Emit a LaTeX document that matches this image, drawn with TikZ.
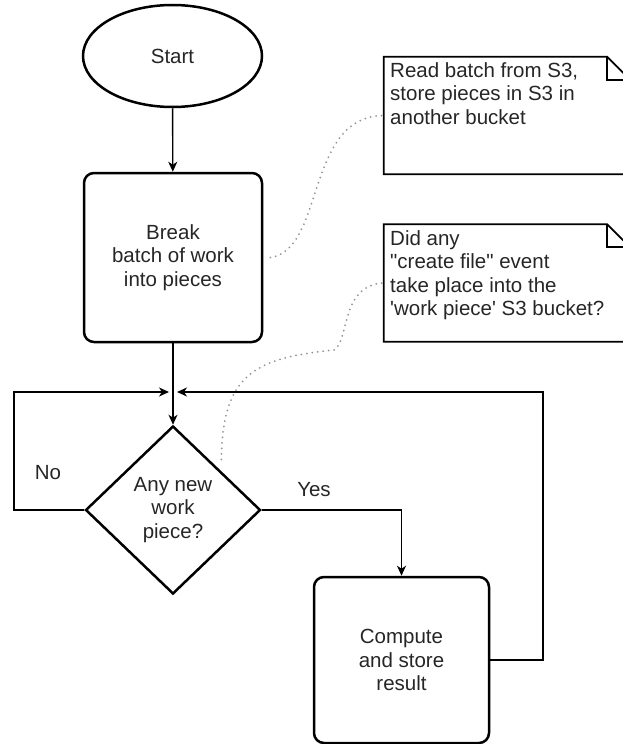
\documentclass[tikz,border=0pt]{standalone}
\usepackage{fontspec}
\setmainfont{Liberation Sans}[Ligatures=TeXOff]
\usetikzlibrary{shapes.geometric,arrows.meta}
\begin{document}
\begin{tikzpicture}[x=1pt,y=-1pt,
  txt/.style={font=\fontsize{20.5}{23.5}\selectfont, text=black!85},
  ell/.style={ellipse, draw, line width=2.5pt, minimum width=179pt, minimum height=102pt, inner sep=0pt, txt},
  proc/.style={rectangle, rounded corners=10pt, draw, line width=2.5pt, inner sep=0pt, align=center, txt},
  dec/.style={diamond, draw, line width=2.5pt, inner sep=0pt, align=center, txt, minimum width=175pt, minimum height=168pt},
  link/.style={line width=1.4pt, -{Stealth[length=10pt,width=9pt,inset=3pt]}},
  notebox/.style={rectangle, inner sep=0pt, minimum width=246pt, minimum height=117pt},
  noteline/.style={line width=1.8pt, line join=miter},
  notetxt/.style={txt, align=left, inner sep=0pt, anchor=north west},
  dots/.style={draw=gray!85, line width=2pt, dash pattern=on 0pt off 5.5pt, line cap=round},
  lbl/.style={txt, inner sep=0pt}]
\useasboundingbox (0,0) rectangle (623,744);

% main flow
\node[ell] (start) at (172.5,56) {Start};
\node[proc, minimum width=178pt, minimum height=169pt] (break) at (173,257.5) {Break\\batch of work\\into pieces};
\coordinate (j) at (173,392);
\node[dec] (dia) at (173,510) {Any new\\work\\piece?};
\node[proc, minimum width=175pt, minimum height=166pt] (comp) at (401.5,660) {Compute\\and store\\result};
\coordinate (nl) at (14,392);
\coordinate (rr) at (543,392);

\draw[link] (start) -- (break);
\draw[link] (break.south) -- (dia.north);
\draw[link] (dia.west) -| (nl) -- ([xshift=-4pt]j);
\draw[link] (dia.east) -| (comp.north);
\draw[link] (comp.east) -| (rr) -- ([xshift=4pt]j);

\node[lbl] (no) at (48,473) {No};
\node[lbl] (yes) at (314,490) {Yes};

% notes
\node[notebox] (note1) at (507,115.5) {};
\draw[noteline] (note1.south west) -- (note1.north west) -- ([xshift=-23pt]note1.north east)
  -- ([yshift=-23pt]note1.north east) -- (note1.south east) -- cycle;
\draw[noteline] ([xshift=-23pt]note1.north east) -- ([xshift=-23pt,yshift=-23pt]note1.north east) -- ([yshift=-23pt]note1.north east);
\node[notetxt] (n1txt) at (390,62) {Read batch from S3,\\store pieces in S3 in\\another bucket};

\node[notebox] (note2) at (507,283) {};
\draw[noteline] (note2.south west) -- (note2.north west) -- ([xshift=-23pt]note2.north east)
  -- ([yshift=-23pt]note2.north east) -- (note2.south east) -- cycle;
\draw[noteline] ([xshift=-23pt]note2.north east) -- ([xshift=-23pt,yshift=-23pt]note2.north east) -- ([yshift=-23pt]note2.north east);
\node[notetxt] (n2txt) at (390,230) {Did any\\"create file" event\\take place into the\\'work piece' S3 bucket?};

% dotted annotation links
\draw[dots] ([xshift=7pt]break.east) .. controls (325,250) and (305,116) .. (note1.west);
\draw[dots] ([shift={(4,-8)}]dia.north east) .. controls (222,370) and (260,358) .. (334,350)
  .. controls (350,340) and (340,285) .. (note2.west);
\end{tikzpicture}
\end{document}
